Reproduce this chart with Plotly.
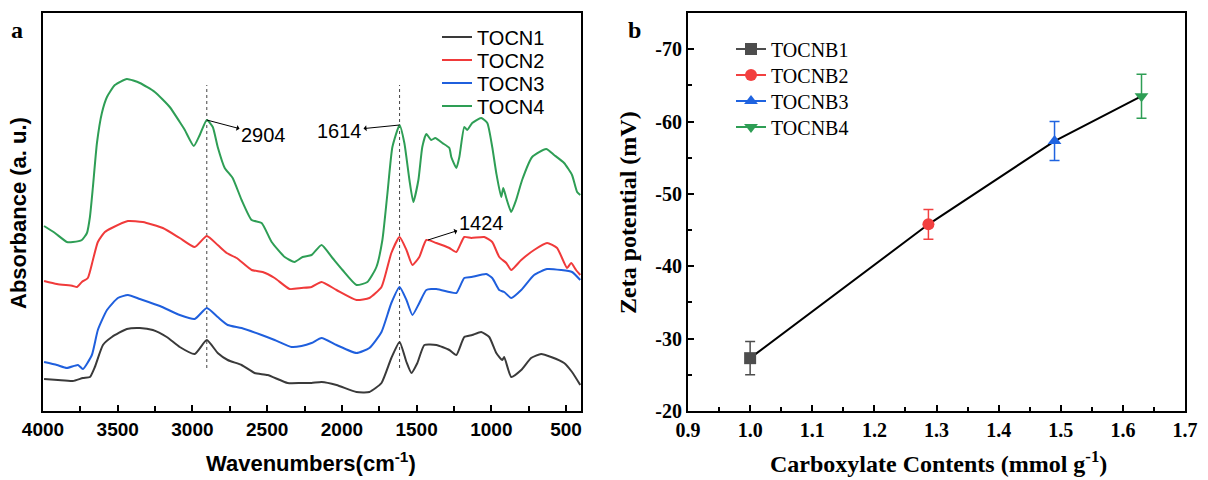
import plotly.graph_objects as go

# ---------------- Panel a: FTIR spectra ----------------
wn_green = [3993, 3920, 3840, 3800, 3740, 3706, 3686, 3666, 3639, 3606, 3572, 3519, 3439, 3352, 3252, 3152,
            3085, 3051, 2991, 2951, 2904, 2864, 2831, 2784, 2731, 2671, 2604, 2537, 2470, 2383, 2317, 2263,
            2203, 2136, 2063, 1996, 1902, 1829, 1769, 1729, 1695, 1662, 1614, 1582, 1548, 1522, 1488, 1462,
            1435, 1402, 1375, 1328, 1281, 1268, 1234, 1214, 1181, 1161, 1128, 1068, 1027, 994, 967, 934,
            920, 900, 867, 834, 794, 727, 633, 580, 513, 460, 426, 405]
abs_green = [1.85, 1.78, 1.69, 1.69, 1.71, 1.78, 1.94, 2.24, 2.68, 2.98, 3.14, 3.26, 3.32, 3.28, 3.19, 3.04,
             2.89, 2.81, 2.65, 2.76, 2.91, 2.84, 2.64, 2.43, 2.33, 2.11, 1.91, 1.88, 1.69, 1.54, 1.49, 1.54,
             1.56, 1.66, 1.53, 1.41, 1.26, 1.29, 1.44, 1.71, 2.18, 2.64, 2.86, 2.68, 2.31, 2.09, 2.31, 2.64,
             2.77, 2.71, 2.73, 2.68, 2.63, 2.54, 2.43, 2.54, 2.84, 2.81, 2.88, 2.93, 2.88, 2.64, 2.38, 2.14,
             2.23, 2.13, 1.99, 2.11, 2.31, 2.54, 2.62, 2.56, 2.48, 2.36, 2.19, 2.16]

wn_red = [3993, 3907, 3800, 3773, 3740, 3700, 3666, 3633, 3586, 3540, 3432, 3332, 3198, 3085, 2985, 2904,
          2831, 2771, 2704, 2604, 2530, 2450, 2350, 2270, 2203, 2136, 2036, 1902, 1816, 1735, 1669, 1614,
          1568, 1528, 1482, 1435, 1368, 1281, 1234, 1181, 1134, 1047, 994, 947, 900, 867, 800, 714, 627,
          560, 493, 466, 433, 405]
abs_red = [1.30, 1.27, 1.25, 1.24, 1.29, 1.33, 1.51, 1.69, 1.79, 1.83, 1.90, 1.89, 1.83, 1.73, 1.64, 1.75,
           1.66, 1.58, 1.53, 1.41, 1.39, 1.33, 1.22, 1.23, 1.24, 1.29, 1.21, 1.11, 1.13, 1.24, 1.58, 1.74,
           1.61, 1.46, 1.54, 1.71, 1.68, 1.63, 1.59, 1.74, 1.73, 1.74, 1.69, 1.54, 1.48, 1.41, 1.51, 1.61, 1.68,
           1.63, 1.43, 1.48, 1.41, 1.36]

wn_blue = [3993, 3907, 3840, 3766, 3733, 3673, 3633, 3572, 3499, 3432, 3352, 3218, 3085, 2985, 2904, 2831,
           2764, 2671, 2537, 2450, 2337, 2270, 2203, 2136, 2036, 1902, 1816, 1735, 1669, 1614, 1568, 1528,
           1482, 1435, 1368, 1281, 1234, 1181, 1134, 1034, 994, 947, 914, 867, 800, 714, 627, 533, 460, 405]
abs_blue = [0.49, 0.46, 0.43, 0.46, 0.42, 0.56, 0.81, 1.01, 1.13, 1.16, 1.12, 1.05, 0.96, 0.92, 1.03, 0.94,
            0.86, 0.83, 0.76, 0.71, 0.64, 0.65, 0.68, 0.73, 0.66, 0.58, 0.63, 0.79, 1.08, 1.24, 1.11, 0.96,
            1.08, 1.21, 1.22, 1.19, 1.18, 1.33, 1.34, 1.37, 1.33, 1.21, 1.19, 1.13, 1.21, 1.36, 1.42, 1.41,
            1.39, 1.31]

wn_black = [3993, 3900, 3800, 3733, 3686, 3653, 3599, 3539, 3439, 3352, 3265, 3172, 3085, 2985, 2904, 2831,
            2764, 2671, 2584, 2497, 2363, 2270, 2203, 2136, 2036, 1902, 1816, 1735, 1669, 1614, 1568, 1535,
            1495, 1448, 1368, 1281, 1234, 1181, 1128, 1068, 1014, 967, 927, 914, 867, 800, 734, 667, 600,
            513, 460, 405]
abs_black = [0.32, 0.31, 0.30, 0.33, 0.34, 0.44, 0.66, 0.74, 0.82, 0.83, 0.81, 0.74, 0.64, 0.57, 0.71, 0.58,
             0.51, 0.46, 0.38, 0.36, 0.28, 0.28, 0.28, 0.29, 0.26, 0.19, 0.19, 0.28, 0.53, 0.69, 0.49, 0.38,
             0.48, 0.66, 0.66, 0.61, 0.56, 0.74, 0.76, 0.79, 0.74, 0.58, 0.51, 0.54, 0.34, 0.41, 0.53, 0.57,
             0.54, 0.48, 0.39, 0.26]

spectra_names = ["TOCN1", "TOCN2", "TOCN3", "TOCN4"]
spectra_colors = ["#3a3a3a", "#f03a3a", "#1f5fdd", "#2e9e55"]

peak_lines = [2904, 1614]
peak_line_extent = [0.43, 3.26]

# annotations: label, arrow point (wn, abs), text position (wn, abs)
peak_labels = ["2904", "1614", "1424"]
peak_pts_x = [2904, 1614, 1424]
peak_pts_y = [2.91, 2.86, 1.71]
label_x = [2524, 2016, 1067]
label_y = [2.76, 2.80, 1.88]

wn_ticks = [4000, 3500, 3000, 2500, 2000, 1500, 1000, 500]

# ---------------- Panel b: Zeta potential ----------------
zeta_names = ["TOCNB1", "TOCNB2", "TOCNB3", "TOCNB4"]
carboxylate = [1.0, 1.287, 1.49, 1.63]
zeta = [-27.3, -45.8, -57.3, -63.5]
zeta_err = [2.3, 2.05, 2.7, 3.05]
zeta_colors = ["#4d4d4d", "#f24040", "#1f63e0", "#2e9e55"]
zeta_symbols = ["square", "circle", "triangle-up", "triangle-down"]
zeta_ticks = [-20, -30, -40, -50, -60, -70]
zeta_ticktext = ["-20", "-30", "-40", "-50", "-60", "-70"]
carb_ticks = [0.9, 1.0, 1.1, 1.2, 1.3, 1.4, 1.5, 1.6, 1.7]

SANS = "Liberation Sans, Arial, sans-serif"
SERIF = "Liberation Serif, Times New Roman, serif"
W, H = 1208, 480

fig = go.Figure()

# dotted reference lines
for p in peak_lines:
    fig.add_trace(go.Scatter(x=[p, p], y=peak_line_extent, mode="lines",
                             line=dict(color="#444444", width=1, dash="dot"),
                             showlegend=False, hoverinfo="skip", xaxis="x", yaxis="y"))

spec = [(wn_black, abs_black), (wn_red, abs_red), (wn_blue, abs_blue), (wn_green, abs_green)]
left_legend_rows = [37, 60, 83, 106]
legends = {}
for i, ((wx, ay), n, c) in enumerate(zip(spec, spectra_names, spectra_colors)):
    lg = "legend" if i == 0 else f"legend{i + 1}"
    fig.add_trace(go.Scatter(x=wx, y=ay, mode="lines", name=n,
                             line=dict(color=c, width=2, shape="spline", smoothing=0.5),
                             xaxis="x", yaxis="y", legend=lg))
    legends[lg] = dict(x=437 / W, y=1 - left_legend_rows[i] / H, xanchor="left", yanchor="middle",
                       bgcolor="rgba(0,0,0,0)", font=dict(family=SANS, size=20, color="black"))

# connecting black line
fig.add_trace(go.Scatter(x=carboxylate, y=zeta, mode="lines", line=dict(color="black", width=2),
                         showlegend=False, hoverinfo="skip", xaxis="x2", yaxis="y2"))
right_legend_rows = [49, 75, 101, 127]
for i in range(len(zeta)):
    lg = f"legend{i + 5}"
    fig.add_trace(go.Scatter(
        x=[carboxylate[i]], y=[zeta[i]], mode="lines+markers", name=zeta_names[i],
        marker=dict(symbol=zeta_symbols[i], size=12, color=zeta_colors[i]),
        line=dict(color=zeta_colors[i], width=2),
        error_y=dict(type="data", array=[zeta_err[i]], color=zeta_colors[i], thickness=1.5, width=5),
        xaxis="x2", yaxis="y2", legend=lg))
    legends[lg] = dict(x=731 / W, y=1 - right_legend_rows[i] / H, xanchor="left", yanchor="middle",
                       bgcolor="rgba(0,0,0,0)", font=dict(family=SERIF, size=20, color="black"))

annotations = []
for t, px, py, lx, ly in zip(peak_labels, peak_pts_x, peak_pts_y, label_x, label_y):
    annotations.append(dict(x=px, y=py, xref="x", yref="y", ax=lx, ay=ly, axref="x", ayref="y",
                            text=t, showarrow=True, arrowside="start", arrowhead=2, arrowsize=1.3,
                            arrowwidth=1, arrowcolor="black", standoff=0, startstandoff=0,
                            font=dict(family=SANS, size=20, color="black")))

# panel letters and axis titles
def paper_text(text, x, y, font, angle=0):
    return dict(text=text, x=x / W, y=1 - y / H, xref="paper", yref="paper", showarrow=False,
                xanchor="center", yanchor="middle", textangle=angle, font=font)

annotations += [
    paper_text("<b>a</b>", 17, 30, dict(family=SERIF, size=24, color="black")),
    paper_text("<b>b</b>", 634, 30, dict(family=SERIF, size=24, color="black")),
    paper_text("<b>Wavenumbers(cm<sup>-1</sup>)</b>", 311, 462, dict(family=SANS, size=22, color="black")),
    paper_text("<b>Absorbance (a. u.)</b>", 18, 213, dict(family=SANS, size=22, color="black"), -90),
    paper_text("<b>Carboxylate Contents (mmol g<sup>-1</sup>)</b>", 938, 462,
               dict(family=SERIF, size=24, color="black")),
    paper_text("<b>Zeta potential (mV)</b>", 628, 213, dict(family=SERIF, size=24, color="black"), -90),
]

ydom = [1 - 411 / H, 1 - 13 / H]
fig.update_layout(
    width=W, height=H, margin=dict(l=0, r=0, t=0, b=0, autoexpand=False),
    paper_bgcolor="white", plot_bgcolor="white",
    xaxis=dict(domain=[43 / W, 581 / W], range=[4000, 400], tickvals=wn_ticks, automargin=False,
               ticks="inside", ticklen=6, tickwidth=1.5, tickcolor="black",
               minor=dict(dtick=250, tick0=0, ticks="inside", ticklen=5, tickwidth=1.5, tickcolor="black"),
               showline=True, linecolor="black", linewidth=2, mirror=True, showgrid=False, zeroline=False,
               tickfont=dict(family=SANS, size=19, color="black", weight="bold"), anchor="y"),
    yaxis=dict(domain=ydom, range=[0, 3.98], showticklabels=False, ticks="", showline=True, automargin=False,
               linecolor="black", linewidth=2, mirror=True, showgrid=False, zeroline=False, anchor="x"),
    xaxis2=dict(domain=[688 / W, 1185 / W], range=[0.9, 1.7], tickvals=carb_ticks, tickformat=".1f",
                automargin=False,
                ticks="inside", ticklen=6, tickwidth=1.5, tickcolor="black",
                minor=dict(dtick=0.05, tick0=0.9, ticks="inside", ticklen=4, tickwidth=1.5, tickcolor="black"),
                showline=True, linecolor="black", linewidth=2, mirror=True, showgrid=False, zeroline=False,
                tickfont=dict(family=SERIF, size=20, color="black", weight="bold"), anchor="y2"),
    yaxis2=dict(domain=ydom, range=[-20, -75], tickvals=zeta_ticks, ticktext=zeta_ticktext, automargin=False,
                ticks="inside", ticklen=6, tickwidth=1.5, tickcolor="black",
                minor=dict(dtick=5, tick0=0, ticks="inside", ticklen=4, tickwidth=1.5, tickcolor="black"),
                showline=True, linecolor="black", linewidth=2, mirror=True, showgrid=False, zeroline=False,
                tickfont=dict(family=SERIF, size=20, color="black", weight="bold"), anchor="x2"),
    annotations=annotations,
    showlegend=True,
    **legends,
)

fig.write_html("out.html", config={"displayModeBar": False},
               post_script="document.body.style.margin='0';document.body.style.overflow='hidden';")
